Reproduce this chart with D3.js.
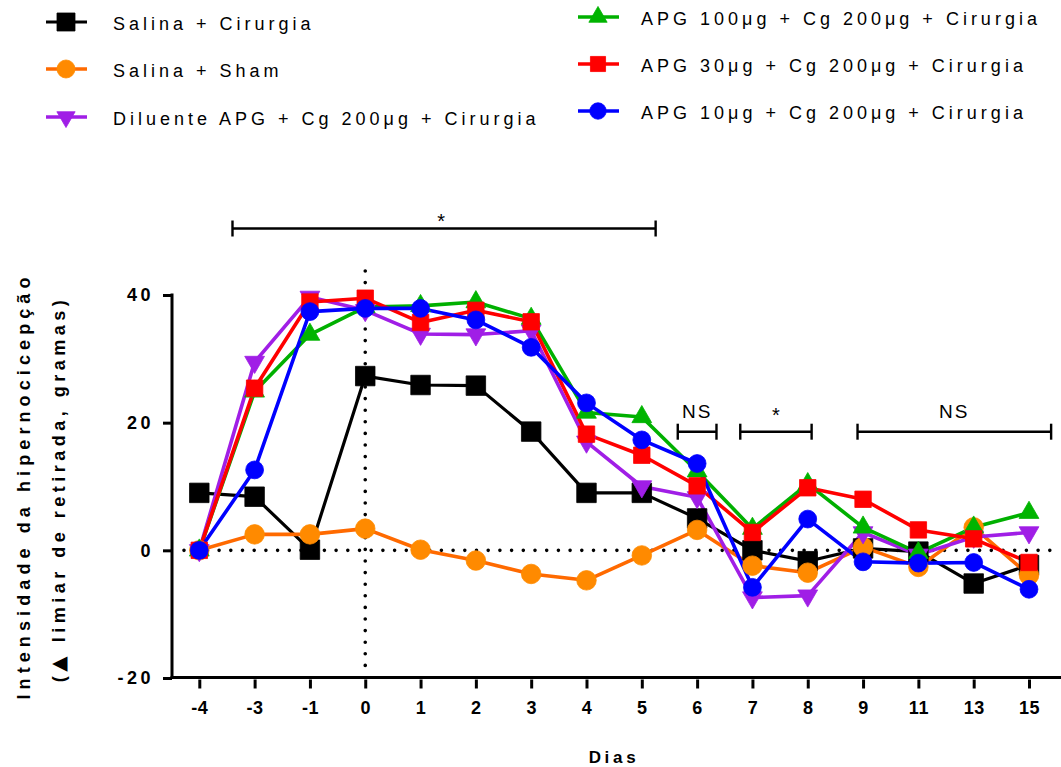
<!DOCTYPE html>
<html>
<head>
<meta charset="utf-8">
<script src="https://cdn.jsdelivr.net/npm/d3@7"></script>
<style>
  html, body { margin: 0; padding: 0; background: #fff; }
  svg { display: block; }
  text { font-family: "Liberation Sans", Arial, sans-serif; fill: #000; }
</style>
</head>
<body>
<svg id="chart" width="1061" height="767"></svg>
<script>
// Days after surgery (categorical axis)
const days = ["-4", "-3", "-1", "0", "1", "2", "3", "4", "5", "6", "7", "8", "9", "11", "13", "15"];

// Mean change of withdrawal threshold (grams) for each group
const salinaCirurgia = [9.0, 8.4, 0.1, 27.3, 25.9, 25.8, 18.6, 9.0, 9.0, 5.0, 0.0, -1.7, 0.3, -0.2, -5.2, -2.3];
const salinaSham     = [0.0, 2.5, 2.5, 3.4, 0.1, -1.6, -3.7, -4.7, -0.8, 3.2, -2.4, -3.5, 0.5, -2.6, 3.6, -3.9];
const diluenteAPG    = [0.0, 29.5, 39.7, 37.6, 33.9, 33.8, 34.4, 17.0, 10.0, 8.3, -7.4, -7.1, 2.8, -0.7, 2.1, 2.8];
const apg100         = [0.0, 24.9, 33.8, 38.1, 38.3, 38.9, 36.3, 21.6, 20.9, 12.4, 3.4, 10.4, 3.6, -0.4, 3.6, 5.9];
const apg30          = [0.0, 25.4, 38.9, 39.5, 35.7, 37.6, 35.8, 18.2, 14.9, 10.1, 2.8, 9.8, 8.0, 3.2, 1.8, -1.9];
const apg10          = [0.0, 12.6, 37.4, 37.9, 37.9, 36.1, 31.8, 23.1, 17.3, 13.6, -5.8, 4.9, -1.8, -2.0, -1.9, -6.1];

const seriesNames = [
  "Salina + Cirurgia",
  "Salina + Sham",
  "Diluente APG + Cg 200\u03bcg + Cirurgia",
  "APG 100\u03bcg + Cg 200\u03bcg + Cirurgia",
  "APG 30\u03bcg + Cg 200\u03bcg + Cirurgia",
  "APG 10\u03bcg + Cg 200\u03bcg + Cirurgia"
];
const seriesValues = [salinaCirurgia, salinaSham, diluenteAPG, apg100, apg30, apg10];

// Y ticks
const yTicks = [-20, 0, 20, 40];

// Significance brackets: span in day-index units, label
const bracketSpans = [[0.6, 8.25], [8.65, 9.35], [9.78, 11.07], [11.9, 15.4]];
const bracketLabels = ["*", "NS", "*", "NS"];

// ---- styling per series ----
const styles = [
  { line: "#000000", fill: "#000000", symbol: d3.symbolSquare,   size: 380, rotate: 0,   lw: 3.2 },
  { line: "#FF6A00", fill: "#FF8A00", symbol: d3.symbolCircle,   size: 300, rotate: 0,   lw: 3.6 },
  { line: "#A01EE6", fill: "#A01EE6", symbol: d3.symbolTriangle, size: 170, rotate: 180, lw: 3.6 },
  { line: "#00B000", fill: "#00B400", symbol: d3.symbolTriangle, size: 170, rotate: 0,   lw: 3.6 },
  { line: "#FF0000", fill: "#FF0000", symbol: d3.symbolSquare,   size: 270, rotate: 0,   lw: 3.6 },
  { line: "#0000FF", fill: "#0000FF", symbol: d3.symbolCircle,   size: 250, rotate: 0,   lw: 3.6 }
];

const svg = d3.select("#chart");
const FONT = '"Liberation Sans", Arial, sans-serif';

// ---- scales ----
const x = d3.scalePoint().domain(days).range([199.3, 1029]);
const xi = d3.scaleLinear().domain([0, days.length - 1]).range([199.3, 1029]);
const y = d3.scaleLinear().domain([-20, 40]).range([678, 295]);

const axisLeftX = 172;
const axisBottomY = 677.5;

// ---- reference dotted lines ----
svg.append("line")
  .attr("x1", 184).attr("x2", 1058)
  .attr("y1", y(0)).attr("y2", y(0))
  .attr("stroke", "#000").attr("stroke-width", 3.6)
  .attr("stroke-linecap", "round")
  .attr("stroke-dasharray", "0,11.7");
svg.append("line")
  .attr("x1", x("0")).attr("x2", x("0"))
  .attr("y1", 271).attr("y2", 676)
  .attr("stroke", "#000").attr("stroke-width", 3.6)
  .attr("stroke-linecap", "round")
  .attr("stroke-dasharray", "0,11.6");

// ---- y axis ----
const yAxis = svg.append("g")
  .attr("transform", `translate(${axisLeftX},0)`)
  .call(d3.axisLeft(y).tickValues(yTicks).tickFormat(d => String(d))
    .tickSize(9).tickPadding(9).tickSizeOuter(0));
yAxis.select(".domain").remove();
yAxis.append("line")
  .attr("x1", 0).attr("x2", 0)
  .attr("y1", y(40) - 1.5).attr("y2", axisBottomY + 1.5)
  .attr("stroke", "#000").attr("stroke-width", 3);
yAxis.selectAll(".tick line").attr("stroke", "#000").attr("stroke-width", 3);
yAxis.selectAll(".tick text")
  .attr("font-family", FONT).attr("font-size", 18).attr("font-weight", "bold")
  .attr("letter-spacing", "3.5px").attr("fill", "#000");

// ---- x axis ----
svg.append("line")
  .attr("x1", axisLeftX - 1.5).attr("x2", 1061)
  .attr("y1", axisBottomY).attr("y2", axisBottomY)
  .attr("stroke", "#000").attr("stroke-width", 3);
const xAxis = svg.append("g")
  .attr("transform", `translate(0,${axisBottomY + 2})`)
  .call(d3.axisBottom(x).tickSize(9).tickPadding(13).tickSizeOuter(0));
xAxis.select(".domain").remove();
xAxis.selectAll(".tick line").attr("stroke", "#000").attr("stroke-width", 3);
xAxis.selectAll(".tick text")
  .attr("font-family", FONT).attr("font-size", 18).attr("font-weight", "bold")
  .attr("letter-spacing", "0.5px").attr("fill", "#000");

// ---- axis titles ----
svg.append("text")
  .attr("x", 614).attr("y", 763)
  .attr("text-anchor", "middle")
  .attr("font-size", 17).attr("font-weight", "bold")
  .attr("letter-spacing", "3.7px")
  .text("Dias");

const yTitle = svg.append("g").attr("transform", "translate(0,486) rotate(-90)");
yTitle.append("text")
  .attr("x", 0).attr("y", 30)
  .attr("text-anchor", "middle")
  .attr("font-size", 18).attr("font-weight", "bold")
  .attr("letter-spacing", "5.1px")
  .text("Intensidade da hipernocicep\u00e7\u00e3o");
const t2 = yTitle.append("text")
  .attr("x", -3).attr("y", 65)
  .attr("text-anchor", "middle")
  .attr("font-size", 18).attr("font-weight", "bold")
  .attr("letter-spacing", "4.5px");
t2.append("tspan").text("(");
t2.append("tspan").attr("font-family", '"DejaVu Sans", sans-serif').attr("font-size", 20).text("\u25b2");
t2.append("tspan").text(" limiar de retirada, gramas)");

// ---- series lines ----
const lineGen = d3.line()
  .x((d, i) => x(days[i]))
  .y(d => y(d));

seriesValues.forEach((vals, s) => {
  svg.append("path")
    .datum(vals)
    .attr("d", lineGen)
    .attr("fill", "none")
    .attr("stroke", styles[s].line)
    .attr("stroke-width", styles[s].lw)
    .attr("stroke-linejoin", "round");
});

// ---- series markers ----
seriesValues.forEach((vals, s) => {
  const st = styles[s];
  const sym = d3.symbol().type(st.symbol).size(st.size);
  svg.append("g").selectAll("path")
    .data(vals)
    .join("path")
    .attr("d", sym)
    .attr("transform", (d, i) => `translate(${x(days[i])},${y(d)}) rotate(${st.rotate})`)
    .attr("fill", st.fill)
    .attr("stroke", st.fill)
    .attr("stroke-width", 0.8);
});

// ---- significance brackets ----
const bracketY = [228.5, 431.7, 431.7, 431.7];
const labelLift = [1, 14, 10, 14];
bracketSpans.forEach((span, k) => {
  const x0 = xi(span[0]), x1 = xi(span[1]), by = bracketY[k];
  const g = svg.append("g");
  g.append("line").attr("x1", x0).attr("x2", x1).attr("y1", by).attr("y2", by)
    .attr("stroke", "#000").attr("stroke-width", 2.4);
  [x0, x1].forEach(xx => {
    g.append("line").attr("x1", xx).attr("x2", xx).attr("y1", by - 8).attr("y2", by + 8)
      .attr("stroke", "#000").attr("stroke-width", 2.4);
  });
  const isStar = bracketLabels[k] === "*";
  g.append("text")
    .attr("x", (x0 + x1) / 2 - (k === 0 ? 3 : 0)).attr("y", by - labelLift[k])
    .attr("text-anchor", "middle")
    .attr("font-size", isStar ? 20 : 19)
    .attr("letter-spacing", isStar ? "0px" : "2px")
    .text(bracketLabels[k]);
});

// ---- legend ----
const legendPos = [
  { cx: 66, cy: 22, tx: 113 },
  { cx: 66, cy: 69, tx: 113 },
  { cx: 66, cy: 117, tx: 113 },
  { cx: 598, cy: 17, tx: 641 },
  { cx: 598, cy: 64, tx: 641 },
  { cx: 598, cy: 111, tx: 641 }
];
seriesNames.forEach((name, s) => {
  const st = styles[s], p = legendPos[s];
  const g = svg.append("g");
  g.append("line")
    .attr("x1", p.cx - 20).attr("x2", p.cx + 21)
    .attr("y1", p.cy).attr("y2", p.cy)
    .attr("stroke", st.line).attr("stroke-width", st.lw);
  g.append("path")
    .attr("d", d3.symbol().type(st.symbol).size(st.size * 0.85)())
    .attr("transform", `translate(${p.cx},${p.cy}) rotate(${st.rotate})`)
    .attr("fill", st.fill).attr("stroke", st.fill).attr("stroke-width", 0.8);
  g.append("text")
    .attr("x", p.tx).attr("y", p.cy + 7.5)
    .attr("font-size", 18)
    .attr("letter-spacing", "4px")
    .text(name);
});
</script>
</body>
</html>
